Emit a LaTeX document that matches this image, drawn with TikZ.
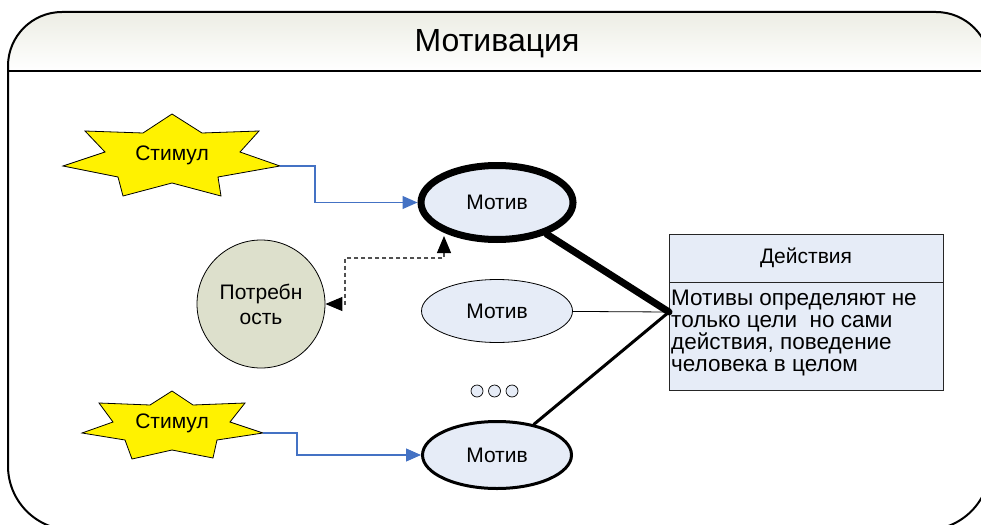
\documentclass[tikz,border=0pt]{standalone}
\usepackage{fontspec}
\setmainfont{Liberation Sans}
\usetikzlibrary{arrows.meta,shapes.geometric,calc}
\definecolor{motfill}{RGB}{230,236,247}
\definecolor{needfill}{RGB}{221,224,204}
\definecolor{conblue}{RGB}{68,114,196}
\definecolor{hdtop}{RGB}{236,237,228}
\definecolor{dashgray}{RGB}{80,80,80}
\tikzset{
  txt/.style={font=\fontsize{21}{25}\selectfont},
  motiv/.style={ellipse, draw=black, fill=motfill, minimum width=150pt, minimum height=66pt, inner sep=0pt, txt},
  starshape/.style={fill=yellow, draw=black, line width=0.8pt, line join=miter},
  blueconn/.style={draw=conblue, line width=1.1pt, -{Triangle[length=15pt,width=13pt,color=conblue,fill=conblue]}},
  dconn/.style={draw=dashgray, line width=1.1pt, dash pattern=on 4pt off 3pt,
    {Triangle[length=17pt,width=14pt,color=black,fill=black]}-{Triangle[length=17pt,width=14pt,color=black,fill=black]}},
  actbox/.style={rectangle, draw=black!85, fill=motfill, line width=0.8pt, inner sep=0pt, outer sep=0pt, minimum width=274pt, txt},
  dot/.style={circle, draw=black, fill=motfill, line width=0.7pt, minimum size=12pt, inner sep=0pt}
}
\begin{document}
\begin{tikzpicture}[x=1pt,y=-1pt]
\useasboundingbox (0,0) rectangle (981,524);
% frame and header
\begin{scope}
  \clip[rounded corners=54pt] (8,12) rectangle (990,527);
  \shade[top color=hdtop, bottom color=white] (0,12) rectangle (1000,71);
\end{scope}
\draw[line width=2pt] (8,71) -- (990,71);
\draw[line width=2pt] (8,300) [rounded corners=54pt] -- (8,12) -- (990,12) -- (990,300) [rounded corners=64pt] -- (990,530) -- (8,530) -- (8,300);
\node[font=\fontsize{32}{36}\selectfont] (title) at (497,44) {Мотивация};

% stimuli
\draw[starshape] (172,114) -- (202,133) -- (259,131) -- (240,152) -- (280,166) -- (218,177) -- (221,196) -- (172,183) -- (123,196) -- (118,177) -- (63,166) -- (105,152) -- (85,131) -- (143,133) -- cycle;
\node[txt] (s1) at (172,155) {Стимул};
\coordinate (s1r) at (280,166);
\draw[starshape] (172,391) -- (193,405) -- (245,403) -- (230,422) -- (263,433) -- (217,440) -- (213,458) -- (172,450) -- (132,459) -- (125,440) -- (82,433) -- (113,422) -- (99,403) -- (150,405) -- cycle;
\node[txt] (s2) at (172,423) {Стимул};
\coordinate (s2r) at (263,433);

% motives
\node[motiv, line width=7pt, minimum width=152pt, minimum height=74pt] (m1) at (497,202.5) {Мотив};
\node[motiv, line width=0.8pt, minimum width=151pt, minimum height=63pt] (m2) at (497,311) {Мотив};
\node[motiv, line width=3pt, minimum width=149pt, minimum height=67pt] (m3) at (497,455) {Мотив};
\node[dot] (d1) at (477,391) {};
\node[dot] (d2) at (494.5,391) {};
\node[dot] (d3) at (512,391) {};

% need
\node[circle, draw=black, line width=0.8pt, fill=needfill, minimum size=128pt, inner sep=0pt, align=center, txt] (p) at (261,304) {Потребн\\ость};

% actions box
\node[actbox, minimum height=48pt] (acth) at (806,258) {Действия};
\node[actbox, minimum height=108pt, anchor=north] (actb) at (acth.south) {};
\node[anchor=north west, inner sep=0pt, align=left, font=\fontsize{22.5}{22}\selectfont] (actt) at (671,290) {Мотивы определяют не\\только цели\ \ но сами\\действия, поведение\\человека в целом};

% connectors
\draw[blueconn] (s1r) -- ++(35,0) |- (m1.west);
\draw[blueconn] (s2r) -- ++(34,0) |- (m3.west);
\coordinate (m1b) at (444,236);
\draw[dconn] (m1b) -- (444,258) -| (345,304) -- (p.east);
\coordinate (jn) at (669,312);
\draw[line width=7pt, line cap=round] (m1) -- (jn);
\draw[line width=0.8pt] (m2) -- (jn);
\draw[line width=3pt, line cap=round] (m3) -- (jn);
\end{tikzpicture}
\end{document}
